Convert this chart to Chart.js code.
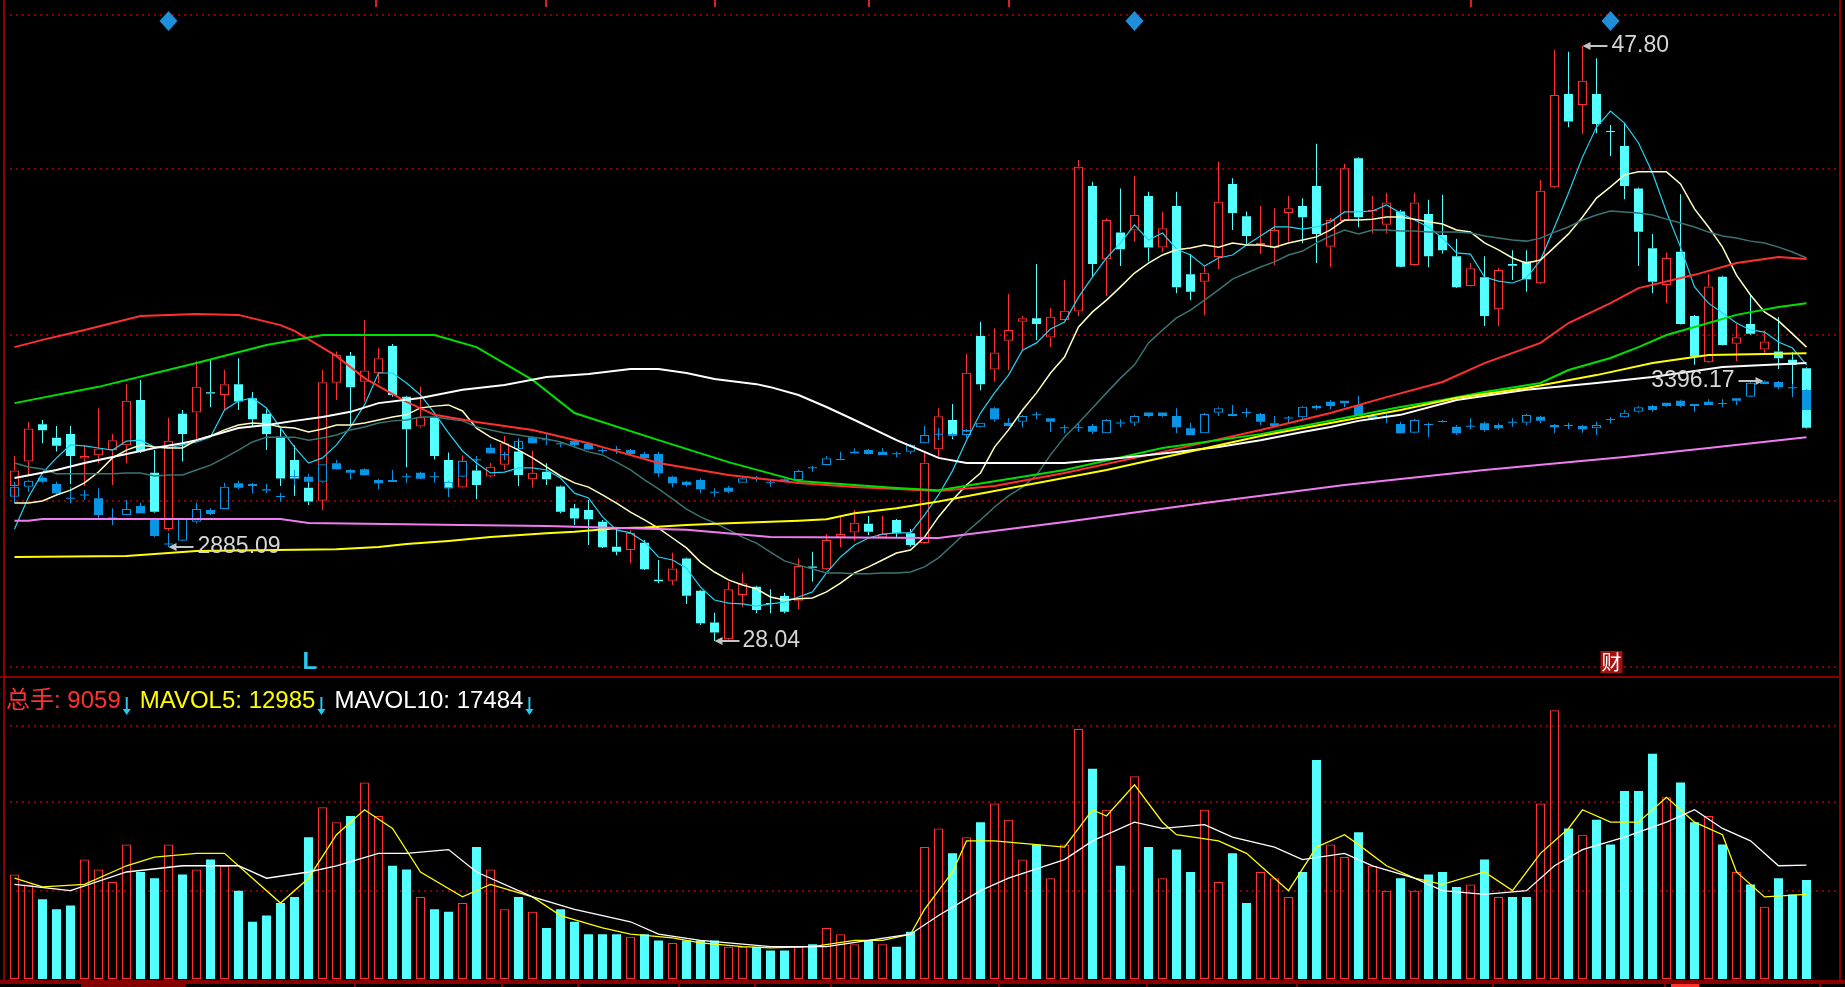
<!DOCTYPE html>
<html><head><meta charset="utf-8">
<script src="https://cdn.jsdelivr.net/npm/chart.js@4.4.1/dist/chart.umd.min.js"></script>
<style>html,body{margin:0;padding:0;background:#000;overflow:hidden}canvas{display:block}</style>
</head><body>
<canvas id="c" width="1845" height="987"></canvas>
<script>
// ---------- DATA ----------
const days = Array.from({length:129},(_,i)=>'D'+(i+1));

const stockOpen = [33.19,34.00,35.24,34.79,34.91,34.10,34.21,34.38,34.54,36.04,33.63,31.76,35.59,35.63,36.30,36.21,36.57,36.10,35.59,34.82,
34.05,33.13,32.70,36.62,37.51,36.65,36.93,37.84,36.15,35.16,35.47,34.05,33.14,33.70,33.50,33.89,34.33,33.41,33.66,33.17,
32.45,32.39,32.00,31.17,31.06,31.30,30.07,30.04,30.78,29.71,28.65,28.10,29.57,29.84,29.30,29.53,29.38,30.51,30.42,31.48,
31.64,31.93,31.48,32.06,31.62,31.29,34.41,35.38,34.99,38.17,37.06,38.01,38.64,38.76,38.12,38.70,38.98,43.15,40.72,41.61,
41.67,42.82,41.11,42.49,40.22,39.97,40.79,43.22,42.15,41.19,41.08,42.25,42.49,43.15,41.13,41.99,44.07,42.30,41.86,42.30,
40.53,42.22,41.52,40.82,39.83,40.12,39.06,40.56,40.64,39.92,43.11,46.21,45.84,46.21,44.98,44.48,43.07,41.08,39.86,40.97,
38.83,37.30,40.14,37.91,38.57,37.72,37.65,37.38,37.10];
const stockHigh = [34.18,35.31,35.38,35.18,35.18,34.54,35.77,34.91,36.57,36.71,34.38,35.45,35.71,37.35,37.40,37.04,37.43,36.31,35.74,35.10,
34.54,33.44,37.04,37.65,37.64,38.70,37.76,37.90,36.18,36.48,35.50,34.30,34.21,34.16,33.95,34.85,34.71,34.36,33.94,33.19,
32.59,32.72,32.06,31.78,31.72,31.39,30.73,30.97,30.80,29.73,28.98,30.01,30.31,29.86,29.76,29.64,30.78,31.00,31.59,32.17,
32.39,32.19,32.19,32.08,31.76,34.33,35.77,35.91,37.57,38.64,38.43,39.56,38.83,40.56,39.09,40.03,44.01,43.29,42.08,43.07,
43.48,42.96,42.30,42.96,40.89,40.49,43.96,43.41,42.30,42.49,42.41,42.82,42.74,44.55,42.09,43.88,44.09,42.82,42.93,42.36,
42.93,42.69,42.86,41.40,40.59,40.82,40.43,41.02,41.02,43.35,47.67,47.61,47.80,47.39,45.18,45.25,43.09,41.56,40.94,42.88,
38.85,40.23,40.16,38.57,39.53,38.35,38.80,37.63,37.12];
const stockLow = [32.62,33.52,34.61,34.33,33.25,33.19,33.94,33.22,33.94,34.28,32.30,31.70,34.00,34.71,35.80,35.71,35.71,35.16,34.38,33.19,
32.86,32.56,32.39,36.04,35.24,35.99,36.60,36.15,33.81,35.12,34.07,32.83,33.10,32.75,33.49,33.72,33.19,33.14,33.22,32.28,
31.89,31.23,31.13,30.89,30.62,30.40,29.96,29.90,29.27,28.57,28.04,28.08,29.18,28.96,28.96,28.96,29.09,30.01,30.40,31.15,
31.37,31.56,31.46,31.48,31.17,31.27,34.16,34.74,34.98,36.37,36.65,37.04,37.71,38.04,37.80,38.68,38.83,40.14,39.50,40.49,
41.30,40.64,40.97,39.59,39.36,38.86,40.39,41.69,41.23,40.89,40.53,41.30,41.25,40.59,40.45,41.97,41.78,41.58,41.58,40.45,
40.50,40.45,40.91,39.77,39.81,38.50,38.50,40.03,39.64,39.90,43.09,45.10,44.88,44.90,44.15,42.71,40.49,39.59,39.26,38.55,
37.21,37.28,37.85,37.34,38.21,37.58,37.07,36.15,35.10];
const stockClose = [33.70,35.10,35.04,34.52,34.18,34.18,34.43,34.71,36.02,34.33,32.33,34.69,34.91,36.48,36.26,36.57,35.99,35.40,34.91,33.44,
33.44,32.67,36.63,37.54,36.47,37.02,37.43,36.21,35.07,35.47,34.18,33.11,34.03,33.22,33.83,34.61,33.55,33.63,33.41,32.33,
32.11,32.08,31.15,31.00,31.63,30.42,30.02,30.45,29.54,28.63,28.32,29.76,29.96,29.07,29.27,29.01,30.53,30.47,31.39,31.59,
31.97,31.67,31.59,31.62,31.23,33.96,35.50,34.88,36.95,36.57,37.62,38.37,38.76,38.57,38.81,39.01,43.79,40.56,42.02,41.05,
42.19,41.11,41.75,39.79,39.64,40.27,42.63,42.25,41.49,41.26,41.69,42.41,42.11,41.56,42.02,43.74,42.11,42.36,42.60,40.47,
42.60,40.82,41.02,39.79,40.42,38.83,40.36,40.50,40.05,42.99,46.17,45.29,46.65,45.21,44.94,43.15,41.63,39.97,40.76,38.57,
37.49,39.81,37.87,38.13,38.24,37.99,37.43,37.21,35.12];

const idxOpen = [3040.0,3070.8,3098.5,3079.1,3036.0,3045.4,3035.0,2974.4,2983.6,3011.3,2968.2,2894.3,2904.4,2963.0,2999.0,3002.1,3081.2,3079.1,3063.0,3040.6,
3102.1,3101.5,3086.2,3142.9,3122.2,3124.4,3091.4,3091.4,3101.0,3113.9,3101.0,3065.8,3101.5,3153.5,3190.8,3168.6,3186.8,3222.8,3215.0,3202.5,
3212.4,3202.2,3181.9,3184.0,3183.7,3171.4,3171.4,3101.5,3086.2,3091.4,3053.0,3067.7,3083.2,3094.0,3083.5,3093.6,3091.4,3127.8,3137.5,3156.0,
3178.5,3183.7,3178.5,3171.8,3178.5,3204.4,3231.5,3233.0,3230.0,3253.6,3312.1,3267.8,3270.9,3291.7,3281.3,3251.6,3251.6,3257.6,3235.1,3266.0,
3267.8,3298.8,3298.8,3288.4,3250.6,3235.1,3298.6,3294.6,3298.8,3294.6,3266.0,3281.6,3284.4,3319.2,3332.5,3335.5,3322.3,3288.4,3286.6,3263.8,
3236.9,3261.0,3271.5,3255.5,3255.8,3266.0,3260.7,3268.2,3267.8,3286.3,3260.7,3258.0,3257.6,3250.6,3276.5,3284.4,3301.7,3319.2,3329.4,3335.5,
3325.4,3332.5,3325.6,3342.9,3347.8,3395.0,3393.0,3374.0,3368.5];
const idxHigh = [3086.2,3091.4,3103.7,3086.2,3070.8,3060.6,3065.8,3004.2,3029.8,3021.5,2973.4,2927.9,2973.4,3021.5,3004.2,3083.2,3089.3,3079.5,3079.1,3052.3,
3122.2,3109.9,3140.0,3152.9,3122.5,3127.5,3092.0,3122.2,3112.0,3117.0,3117.0,3086.5,3152.9,3165.2,3202.2,3178.5,3219.6,3226.9,3233.0,3209.3,
3213.0,3203.0,3189.0,3196.0,3184.0,3178.5,3178.5,3102.0,3089.3,3096.7,3065.8,3072.9,3103.7,3103.7,3091.4,3096.7,3119.5,3134.5,3165.2,3178.5,
3189.0,3184.0,3189.0,3178.5,3199.5,3257.6,3251.5,3236.0,3246.0,3268.0,3312.5,3281.3,3288.8,3301.7,3281.5,3260.7,3265.9,3263.8,3276.5,3278.2,
3289.0,3299.0,3299.0,3312.1,3267.8,3295.0,3312.5,3322.3,3312.1,3295.0,3288.4,3288.4,3317.5,3319.5,3337.7,3335.7,3350.0,3288.6,3294.6,3270.9,
3276.5,3267.8,3276.1,3260.7,3281.3,3270.9,3266.0,3281.3,3292.0,3288.4,3261.0,3267.8,3258.0,3270.9,3284.4,3306.9,3319.2,3319.5,3329.7,3337.7,
3325.6,3339.8,3339.8,3343.2,3394.0,3396.17,3395.5,3386.9,3370.6];
const idxLow = [3019.6,3055.4,3081.2,3048.3,3019.6,3029.8,2970.4,2952.8,2983.0,2988.0,2914.9,2885.09,2904.0,2958.1,2983.6,3001.0,3062.8,3050.4,3050.4,3024.6,
3076.0,3083.2,3083.2,3124.0,3093.6,3105.0,3062.8,3085.0,3083.2,3095.0,3083.2,3040.0,3101.0,3137.0,3173.0,3152.9,3186.0,3204.0,3199.1,3192.0,
3192.0,3183.7,3173.6,3171.4,3165.2,3155.1,3101.5,3068.9,3070.8,3050.4,3040.0,3050.4,3083.0,3086.2,3070.8,3086.0,3081.2,3116.9,3137.0,3152.0,
3173.0,3171.0,3168.0,3161.2,3171.4,3204.0,3214.5,3224.0,3219.6,3253.0,3270.9,3257.0,3253.6,3278.2,3240.1,3235.1,3240.1,3233.0,3235.0,3253.6,
3257.6,3284.4,3284.4,3235.1,3229.5,3235.0,3288.4,3288.0,3284.4,3260.7,3257.0,3266.0,3278.2,3306.9,3309.0,3315.0,3288.0,3276.1,3266.0,3235.0,
3235.1,3222.8,3269.0,3230.0,3247.5,3240.1,3245.4,3255.5,3260.7,3266.0,3235.1,3247.5,3236.9,3230.0,3266.0,3284.0,3298.6,3301.7,3317.1,3315.2,
3301.7,3322.0,3315.2,3322.3,3347.5,3386.5,3370.6,3347.8,3306.0];
const idxClose = [3070.8,3089.3,3086.2,3050.4,3034.0,3044.0,2983.6,2972.5,3002.1,2988.8,2918.9,2892.4,2971.3,3002.1,2986.7,3070.8,3067.7,3072.9,3059.0,3039.0,
3100.6,3086.2,3139.8,3124.4,3113.9,3105.9,3081.2,3085.2,3100.0,3095.4,3100.0,3086.2,3150.8,3152.3,3173.6,3168.0,3212.4,3204.4,3214.0,3201.8,
3199.1,3185.9,3181.0,3183.4,3171.4,3158.2,3112.0,3081.2,3076.0,3062.8,3052.0,3055.4,3096.7,3093.5,3083.0,3086.2,3119.1,3127.2,3158.2,3153.0,
3173.6,3171.4,3168.3,3171.0,3199.1,3230.0,3230.5,3226.9,3245.4,3267.8,3278.2,3257.6,3288.4,3291.0,3270.9,3251.0,3251.0,3240.1,3276.1,3265.5,
3288.4,3288.4,3288.4,3253.6,3230.0,3294.6,3312.1,3288.4,3298.0,3270.9,3257.6,3281.0,3317.1,3312.1,3319.2,3327.5,3288.4,3278.2,3286.0,3235.1,
3276.1,3260.5,3270.0,3235.1,3255.0,3245.4,3250.6,3267.5,3291.5,3274.0,3253.6,3257.5,3247.5,3260.7,3276.0,3298.6,3315.2,3306.9,3319.2,3319.2,
3319.2,3322.3,3325.0,3335.5,3391.0,3386.9,3376.8,3373.5,3306.9];

const volume = [16044,14516,12224,10696,11269,18336,16808,14898,20628,16426,
15471,20628,16044,16808,18336,17381,13561,8786,9741,11651,
12606,21774,26358,24066,25021,30178,25021,17381,16808,12606,
10696,10314,11651,20246,16808,10696,12606,10314,7831,10696,
8786,6876,6876,6876,6494,6876,5921,5539,5921,5921,
5921,4966,4966,4966,4393,4393,4966,5348,7831,6876,
5348,5921,5348,4966,7258,20246,23111,19291,21774,24066,
26931,24448,18336,20628,15471,20628,38391,32279,25976,17381,
31133,20246,15471,19864,16426,25976,14898,19291,11651,16426,
15471,12606,16426,33616,20628,18718,22538,17381,13561,15471,
13561,16044,16426,14134,14516,18336,12606,12606,12606,26931,
41256,23111,22156,24448,20628,28841,28841,34571,27886,30178,
24066,25021,20628,16426,14516,11078,15471,12988,15200];

const ma5 = [31.76,32.82,33.62,34.12,34.55,34.52,34.45,34.38,34.68,34.71,34.48,34.45,34.55,34.65,34.81,35.71,36.01,36.11,35.78,35.11,
34.48,33.95,34.12,34.55,35.15,35.88,36.94,36.94,36.61,36.21,35.61,34.95,34.35,33.95,33.62,33.65,33.79,33.79,33.72,33.45,
32.95,32.79,32.16,31.73,31.63,31.33,30.83,30.73,30.46,29.83,29.40,29.30,29.27,29.20,29.27,29.33,29.50,29.67,30.30,30.83,
31.23,31.46,31.59,31.63,31.63,32.22,32.89,33.69,34.71,35.61,36.28,36.87,37.70,37.94,38.40,38.63,39.46,40.13,40.76,41.26,
41.86,41.36,41.59,41.06,40.86,40.49,40.76,40.86,41.19,41.49,41.79,41.79,41.72,41.79,41.96,42.29,42.29,42.32,42.52,42.25,
42.02,41.79,41.42,40.93,40.89,40.13,39.99,39.93,40.10,40.69,41.79,42.92,44.11,45.11,45.64,45.24,44.58,43.58,42.29,41.12,
39.80,39.26,38.93,38.60,38.37,38.30,37.97,37.77,37.21];
const ma10 = [32.62,32.62,32.69,32.89,33.05,33.29,33.65,34.12,34.38,34.55,34.48,34.45,34.45,34.71,34.85,35.05,35.21,35.28,35.25,35.15,
35.11,34.98,35.08,35.21,35.21,35.28,35.38,35.48,35.55,35.78,35.84,35.88,35.68,35.11,34.81,34.61,34.38,34.12,33.82,33.52,
33.29,33.15,32.89,32.62,32.32,32.06,31.79,31.46,31.13,30.66,30.33,30.07,29.90,29.77,29.50,29.40,29.44,29.47,29.67,29.96,
30.30,30.50,30.73,30.96,31.06,31.49,32.16,32.72,33.22,33.62,34.48,35.05,35.71,36.28,36.94,37.47,38.47,38.97,39.36,39.80,
40.26,40.59,40.86,41.03,41.09,41.19,41.12,41.26,41.19,41.19,41.12,41.26,41.36,41.46,41.69,42.02,42.02,42.05,42.12,42.12,
42.05,41.96,41.89,41.69,41.62,41.26,41.03,40.76,40.59,40.69,41.12,41.56,42.12,42.75,43.12,43.52,43.62,43.62,43.62,43.22,
42.39,41.79,41.12,40.19,39.53,38.97,38.67,38.24,37.80];
const ma20 = [33.95,33.82,33.75,33.59,33.59,33.59,33.59,33.59,33.62,33.62,33.52,33.55,33.55,33.72,33.88,34.12,34.38,34.65,34.81,34.81,
34.81,34.71,34.78,34.88,35.05,35.15,35.28,35.35,35.38,35.48,35.48,35.41,35.35,35.15,35.05,34.95,34.88,34.81,34.75,34.65,
34.48,34.32,34.22,33.98,33.72,33.39,33.09,32.76,32.42,32.16,31.96,31.73,31.49,31.29,30.99,30.70,30.56,30.43,30.30,30.30,
30.27,30.27,30.30,30.30,30.33,30.50,30.80,31.23,31.66,32.06,32.49,32.86,33.15,33.55,34.22,34.81,35.28,35.78,36.28,36.77,
37.21,37.94,38.37,38.77,39.03,39.36,39.70,40.06,40.26,40.46,40.63,40.86,40.99,41.26,41.49,41.69,41.56,41.69,41.69,41.66,
41.66,41.62,41.62,41.62,41.59,41.49,41.42,41.36,41.32,41.42,41.62,41.79,42.02,42.19,42.32,42.29,42.25,42.19,42.05,41.92,
41.79,41.62,41.49,41.42,41.32,41.26,41.12,40.96,40.76];

// long moving averages read at selected days: [day index, value]
const maRedPts = [[0,37.80],[2,38.04],[5,38.37],[9,38.83],[13,38.90],[16,38.87],[19,38.53],[20,38.34],[23,37.50],[25,36.77],[28,35.98],[30,35.55],[33,35.31],[37,35.05],[41,34.61],[46,33.95],[51,33.55],[56,33.29],[60,33.15],[66,33.02],[70,33.19],[75,33.62],[82,34.32],[89,35.05],[94,35.61],[98,36.14],[102,36.64],[105,37.27],[109,37.94],[111,38.60],[114,39.26],[116,39.76],[120,40.20],[123,40.59],[126,40.79],[128,40.73]];
const maGreenPts = [[0,35.94],[6,36.48],[13,37.27],[18,37.87],[22,38.20],[30,38.20],[33,37.80],[37,36.71],[40,35.61],[46,34.71],[51,33.98],[56,33.35],[63,33.12],[66,33.05],[75,33.72],[82,34.45],[89,34.91],[99,35.81],[102,36.04],[105,36.31],[109,36.61],[111,37.04],[114,37.44],[116,37.80],[118,38.20],[121,38.60],[123,38.87],[126,39.13],[128,39.26]];
const maYellowPts = [[0,30.83],[8,30.86],[13,31.03],[23,31.09],[26,31.16],[28,31.26],[31,31.36],[34,31.49],[38,31.62],[40,31.67],[43,31.78],[45,31.81],[48,31.89],[51,31.95],[56,32.03],[58,32.08],[60,32.28],[63,32.45],[66,32.67],[78,33.72],[89,34.85],[99,35.71],[103,36.11],[108,36.44],[113,36.87],[117,37.27],[121,37.54],[128,37.60]];
const maWhitePts = [[0,33.45],[3,33.72],[5,33.95],[10,34.45],[12,34.61],[13,34.71],[16,35.11],[18,35.21],[20,35.35],[22,35.48],[24,35.65],[26,35.94],[29,36.11],[32,36.38],[35,36.54],[38,36.81],[41,36.91],[44,37.07],[46,37.07],[48,36.94],[50,36.74],[53,36.57],[54,36.47],[56,36.21],[58,35.81],[60,35.38],[63,34.71],[65,34.32],[66,34.12],[68,33.95],[73,33.95],[75,33.95],[79,34.12],[83,34.32],[86,34.48],[89,34.71],[92,34.98],[94,35.15],[96,35.35],[99,35.55],[103,36.04],[108,36.38],[113,36.61],[117,36.81],[122,37.14],[128,37.27]];
const maPinkPts = [[0,32.03],[1,32.03],[2,32.09],[19,32.09],[21,31.96],[32,31.89],[38,31.86],[48,31.73],[54,31.49],[66,31.46],[75,31.99],[85,32.62],[95,33.22],[105,33.72],[115,34.15],[121,34.45],[128,34.81]];

const mavol5Pts = [[0,15471],[2,14134],[5,14516],[8,17381],[10,18718],[13,19291],[15,19291],[17,15471],[19,11651],[21,15471],[23,22156],[25,25976],[27,23111],[29,16426],[32,12606],[34,14516],[37,12606],[39,9741],[42,7831],[44,6876],[47,6303],[49,5539],[52,4966],[54,4775],[57,4966],[60,5921],[62,5921],[64,6876],[65,10696],[67,16426],[68,21201],[70,21201],[73,20628],[75,20246],[77,25976],[78,25021],[80,29796],[82,24066],[83,22156],[86,21201],[88,19291],[89,17381],[91,13561],[93,20246],[95,22156],[96,20628],[98,17381],[100,15471],[102,14516],[105,16426],[107,13561],[109,19291],[111,23111],[112,25976],[114,24066],[116,24066],[118,27886],[120,24066],[122,22156],[123,16426],[125,12606],[128,12985]];
const mavol10Pts = [[0,14516],[4,13561],[8,16426],[12,17381],[16,17381],[18,15471],[21,16426],[23,17381],[26,19291],[28,19291],[31,19864],[33,16426],[37,12606],[40,10696],[44,8786],[46,6876],[49,5921],[54,4966],[58,4966],[61,5921],[64,6876],[66,9741],[69,13561],[71,15471],[75,18336],[77,21201],[80,24066],[82,23111],[85,23684],[87,21774],[90,20246],[92,18336],[95,19291],[97,17381],[100,15471],[102,13561],[105,12988],[108,13561],[110,17381],[112,19864],[115,21774],[118,24066],[120,25976],[122,23111],[124,21201],[126,17381],[128,17484]];

const volLegend = {total: 9059, mavol5: 12985, mavol10: 17484};
const priceGridValues = [48.83, 43.715, 38.202, 32.689, 27.176];
const volGridValues = [13550, 27100, 38836];
const signalDays = [11, 80, 114];
const lMarkDay = 21;
const caiMarkDay = 114;

// ---------- BUILD ----------
const N = days.length;
const RED='#ff3232', CYAN='#54ffff', BLUE='#0a94e4', CLEAR='rgba(0,0,0,0)';
const sUp = stockClose.map((c,i)=>c>=stockOpen[i]);
const iUp = idxClose.map((c,i)=>c>=idxOpen[i]);
function sparse(pts){const a=new Array(N).fill(null);pts.forEach(p=>{a[p[0]]=p[1];});return a;}
function upperWick(o,c,h,eps){return h.map((v,i)=>{const t=Math.max(o[i],c[i]);return v-t>eps?[t,v]:null;});}
function lowerWick(o,c,l,eps){return l.map((v,i)=>{const b=Math.min(o[i],c[i]);return b-v>eps?[v,b]:null;});}
const barBase = {type:'bar', grouped:false, borderSkipped:false, inflateAmount:0, minBarLength:1};
function line(data, color, width, axis){return {type:'line', data, borderColor:color, borderWidth:width, pointRadius:0, tension:0, spanGaps:true, yAxisID:axis, order:0};}

const datasets = [
  line(sparse(maPinkPts), '#f07cf0', 2, 'y'),
  line(sparse(maYellowPts), '#ffff00', 2, 'y'),
  line(sparse(maWhitePts), '#ffffff', 2, 'y'),
  line(sparse(maGreenPts), '#00e000', 2, 'y'),
  line(sparse(maRedPts), '#ff3030', 2, 'y'),
  line(ma20, '#3a7474', 1.5, 'y'),
  line(ma10, '#ffffc0', 1.5, 'y'),
  line(ma5, '#22d4f4', 1.2, 'y'),
  line(sparse(mavol10Pts), '#ffffff', 1.3, 'yv'),
  line(sparse(mavol5Pts), '#ffff00', 1.3, 'yv'),
  // index candles
  Object.assign({}, barBase, {data: idxOpen.map((o,i)=>[o, idxClose[i]]), yAxisID:'yi', barThickness:9,
    backgroundColor: iUp.map(u=>u?CLEAR:BLUE), borderColor: BLUE, borderWidth: iUp.map(u=>u?1:0), order:1}),
  Object.assign({}, barBase, {data: upperWick(idxOpen,idxClose,idxHigh,0.3), yAxisID:'yi', barThickness:1, backgroundColor:BLUE, borderWidth:0, order:2}),
  Object.assign({}, barBase, {data: lowerWick(idxOpen,idxClose,idxLow,0.3), yAxisID:'yi', barThickness:1, backgroundColor:BLUE, borderWidth:0, order:2}),
  // stock candles
  Object.assign({}, barBase, {data: stockOpen.map((o,i)=>[o, stockClose[i]]), yAxisID:'y', barThickness:9,
    backgroundColor: sUp.map(u=>u?CLEAR:CYAN), borderColor: sUp.map(u=>u?RED:CYAN), borderWidth: sUp.map(u=>u?1:0), order:3}),
  Object.assign({}, barBase, {data: upperWick(stockOpen,stockClose,stockHigh,0.005), yAxisID:'y', barThickness:1, backgroundColor: sUp.map(u=>u?RED:CYAN), borderWidth:0, order:4}),
  Object.assign({}, barBase, {data: lowerWick(stockOpen,stockClose,stockLow,0.005), yAxisID:'y', barThickness:1, backgroundColor: sUp.map(u=>u?RED:CYAN), borderWidth:0, order:4}),
  // volume
  Object.assign({}, barBase, {data: volume, yAxisID:'yv', barThickness:9,
    backgroundColor: sUp.map(u=>u?CLEAR:CYAN), borderColor: sUp.map(u=>u?RED:CYAN), borderWidth: sUp.map(u=>u?1:0), order:5}),
];

const FONT = '"Liberation Sans", Arial, "Noto Sans CJK SC", sans-serif';
function arrow(ctx, xTip, y, dir){
  ctx.strokeStyle='#c4c4c4'; ctx.fillStyle='#c4c4c4'; ctx.lineWidth=2;
  ctx.beginPath(); ctx.moveTo(xTip+dir*3, y); ctx.lineTo(xTip+dir*25, y); ctx.stroke();
  ctx.beginPath(); ctx.moveTo(xTip, y); ctx.lineTo(xTip+dir*8, y-4); ctx.lineTo(xTip+dir*8, y+4); ctx.closePath(); ctx.fill();
}

const deco = {
  id:'deco',
  beforeDraw(chart){
    const ctx = chart.ctx, W = chart.width, H = chart.height;
    const ys = chart.scales.y, yv = chart.scales.yv;
    ctx.save();
    ctx.fillStyle='#000'; ctx.fillRect(0,0,W,H);
    ctx.strokeStyle='#8a0000'; ctx.lineWidth=2; ctx.setLineDash([2,4]);
    priceGridValues.forEach(v=>{const y=Math.round(ys.getPixelForValue(v)); ctx.beginPath(); ctx.moveTo(10,y); ctx.lineTo(1837,y); ctx.stroke();});
    volGridValues.forEach(v=>{const y=Math.round(yv.getPixelForValue(v)); ctx.beginPath(); ctx.moveTo(10,y); ctx.lineTo(1837,y); ctx.stroke();});
    ctx.setLineDash([]);
    // frame
    ctx.fillStyle='#8a0000';
    ctx.fillRect(3,0,2,980);
    ctx.fillRect(1839,0,2,980);
    ctx.fillRect(0,676,1841,2);
    ctx.fillRect(0,980,1845,4);
    // tab strip
    ctx.fillStyle='#800000'; ctx.fillRect(81,984,102,3);
    [81,183,354,501,577,678,754,830,998,1146,1296,1492,1664,1819].forEach(x=>ctx.fillRect(x,984,2,3));
    ctx.fillStyle='#ff3232'; ctx.fillRect(1671,984,28,3);
    // partial toolbar marks at top
    ctx.fillStyle='#d82020';
    [375,545,714,868,1008,1470].forEach(x=>ctx.fillRect(x,0,2,7));
    ctx.restore();
  },
  afterDatasetsDraw(chart){
    const ctx = chart.ctx, xs = chart.scales.x, ys = chart.scales.y, yi = chart.scales.yi;
    ctx.save();
    ctx.font = '23px '+FONT; ctx.textBaseline='middle';
    // extreme value labels
    const hiVal = Math.max(...stockHigh), hiI = stockHigh.indexOf(hiVal);
    const loVal = Math.min(...stockLow), loI = stockLow.indexOf(loVal);
    const ihVal = Math.max(...idxHigh), ihI = idxHigh.indexOf(ihVal);
    const ilVal = Math.min(...idxLow), ilI = idxLow.indexOf(ilVal);
    let x, y;
    x = xs.getPixelForValue(hiI); y = Math.round(ys.getPixelForValue(hiVal));
    arrow(ctx, x, y, 1); ctx.fillStyle='#d6d6d6'; ctx.textAlign='left'; ctx.fillText(hiVal.toFixed(2), x+29, y);
    x = xs.getPixelForValue(loI); y = Math.round(ys.getPixelForValue(loVal));
    arrow(ctx, x, y, 1); ctx.fillStyle='#d6d6d6'; ctx.fillText(loVal.toFixed(2), x+28, y);
    x = xs.getPixelForValue(ilI); y = Math.round(yi.getPixelForValue(ilVal));
    arrow(ctx, x, y, 1); ctx.fillStyle='#d6d6d6'; ctx.fillText(ilVal.toFixed(2), x+29, y);
    x = xs.getPixelForValue(ihI); y = Math.round(yi.getPixelForValue(ihVal));
    arrow(ctx, x-1, y, -1); ctx.fillStyle='#d6d6d6'; ctx.textAlign='right'; ctx.fillText(ihVal.toFixed(2), x-30, y);
    // signal diamonds
    ctx.fillStyle='#1e8fd8';
    signalDays.forEach(d=>{const cx=xs.getPixelForValue(d); ctx.beginPath(); ctx.moveTo(cx,11); ctx.lineTo(cx+9,21); ctx.lineTo(cx,31); ctx.lineTo(cx-9,21); ctx.closePath(); ctx.fill();});
    // L mark
    ctx.textAlign='left'; ctx.font='bold 24px '+FONT; ctx.fillStyle='#28c8f4';
    ctx.fillText('L', xs.getPixelForValue(lMarkDay)-6, 662);
    // 财 mark
    const cx = xs.getPixelForValue(caiMarkDay);
    ctx.fillStyle='#a81010'; ctx.fillRect(cx-10, 651, 22, 22);
    ctx.fillStyle='#ffffff'; ctx.font='20px "Noto Sans CJK SC", sans-serif'; ctx.textAlign='center';
    ctx.fillText('财', cx+1, 662);
    // volume legend
    ctx.font='24px '+FONT; ctx.textAlign='left';
    let tx = 6; const ty = 701;
    const parts = [['总手: '+volLegend.total, RED], ['MAVOL5: '+volLegend.mavol5, '#ffff00'], ['MAVOL10: '+volLegend.mavol10, '#ffffff']];
    parts.forEach(p=>{
      ctx.fillStyle=p[1]; ctx.fillText(p[0], tx, ty); tx += ctx.measureText(p[0]).width + 2;
      ctx.strokeStyle='#28c8f0'; ctx.fillStyle='#28c8f0'; ctx.lineWidth=2;
      ctx.beginPath(); ctx.moveTo(tx+4, ty-4); ctx.lineTo(tx+4, ty+12); ctx.stroke();
      ctx.beginPath(); ctx.moveTo(tx, ty+8); ctx.lineTo(tx+8, ty+8); ctx.lineTo(tx+4, ty+14); ctx.closePath(); ctx.fill();
      tx += 17;
    });
    ctx.restore();
  }
};

new Chart(document.getElementById('c'), {
  type:'bar',
  data:{labels: days, datasets},
  options:{
    responsive:false, animation:false, devicePixelRatio:1, events:[],
    layout:{padding:{left:7.5, right:31.5, top:0, bottom:0}},
    plugins:{legend:{display:false}, tooltip:{enabled:false}},
    scales:{
      x:{type:'category', offset:true, display:false, grid:{display:false}},
      y:{type:'linear', display:false, min:16.548, max:49.328},
      yi:{type:'linear', display:false, min:1530.41, max:4569.19},
      yv:{type:'linear', display:false, min:-1228, max:150277}
    }
  },
  plugins:[deco]
});
</script>
</body></html>
